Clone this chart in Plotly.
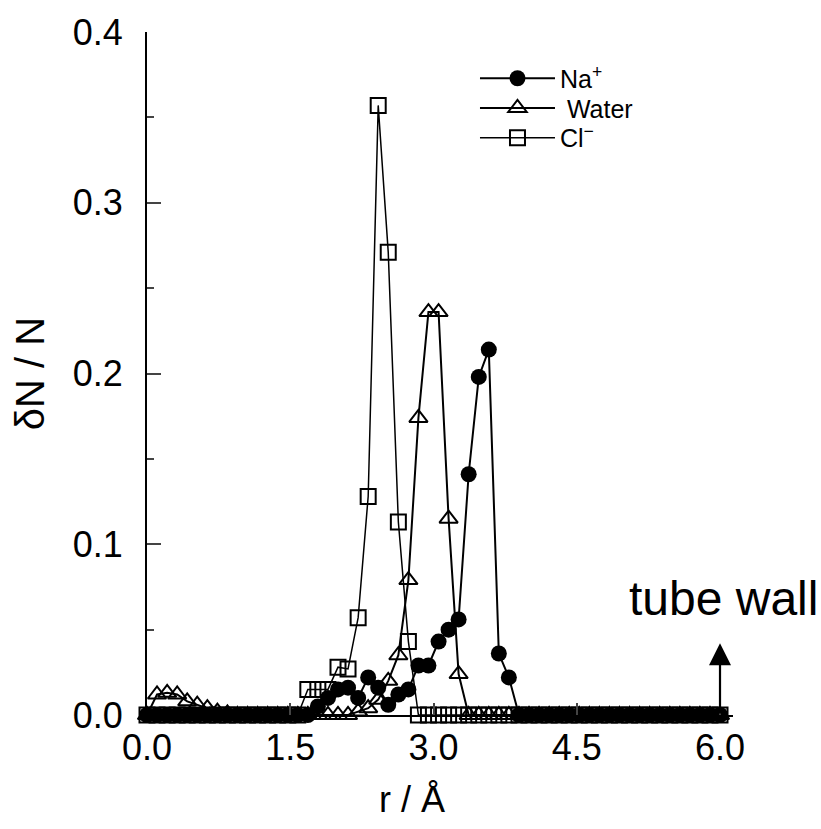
import plotly.graph_objects as go

# radial grid (Å)
r = [0.0, 0.105, 0.211, 0.316, 0.421, 0.526, 0.632, 0.737, 0.842, 0.947,
     1.053, 1.158, 1.263, 1.368, 1.474, 1.579, 1.684, 1.789, 1.895, 2.0,
     2.105, 2.211, 2.316, 2.421, 2.526, 2.632, 2.737, 2.842, 2.947, 3.053,
     3.158, 3.263, 3.368, 3.474, 3.579, 3.684, 3.789, 3.895, 4.0, 4.105,
     4.211, 4.316, 4.421, 4.526, 4.632, 4.737, 4.842, 4.947, 5.053, 5.158,
     5.263, 5.368, 5.474, 5.579, 5.684, 5.789, 5.895, 6.0]

na = [0, 0, 0, 0, 0, 0, 0, 0, 0, 0,
      0, 0, 0, 0, 0, 0, 0, 0.005, 0.010, 0.015,
      0.016, 0.010, 0.022, 0.016, 0.006, 0.012, 0.015, 0.029, 0.029, 0.043,
      0.050, 0.056, 0.141, 0.198, 0.214, 0.036, 0.022, 0, 0, 0,
      0, 0, 0, 0, 0, 0, 0, 0, 0, 0,
      0, 0, 0, 0, 0, 0, 0, 0]

water = [0, 0.012, 0.013, 0.012, 0.008, 0.006, 0.004, 0.002, 0.001, 0,
         0, 0, 0, 0, 0, 0, 0, 0, 0, 0,
         0, 0.002, 0.004, 0.009, 0.020, 0.035, 0.079, 0.174, 0.236, 0.236,
         0.115, 0.024, 0, 0, 0, 0, 0, 0, 0, 0,
         0, 0, 0, 0, 0, 0, 0, 0, 0, 0,
         0, 0, 0, 0, 0, 0, 0, 0]

cl = [0, 0, 0, 0, 0, 0, 0, 0, 0, 0,
      0, 0, 0, 0, 0, 0, 0.015, 0.015, 0.015, 0.028,
      0.027, 0.057, 0.128, 0.357, 0.271, 0.113, 0.043, 0, 0, 0,
      0, 0, 0, 0, 0, 0, 0, 0, 0, 0,
      0, 0, 0, 0, 0, 0, 0, 0, 0, 0,
      0, 0, 0, 0, 0, 0, 0, 0]

series_names = ["Na<sup>+</sup>", " Water", "Cl<sup>−</sup>"]
x_ticks = [0.0, 1.5, 3.0, 4.5, 6.0]
y_ticks = [0.0, 0.1, 0.2, 0.3, 0.4]

FONT = "Liberation Sans, Arial, sans-serif"

fig = go.Figure()
fig.add_trace(go.Scatter(
    x=r, y=na, name=series_names[0], mode="lines+markers", cliponaxis=False,
    legend="legend",
    line=dict(color="black", width=2),
    marker=dict(symbol="circle", size=16, color="black")))
fig.add_trace(go.Scatter(
    x=r, y=water, name=series_names[1], mode="lines+markers", cliponaxis=False,
    legend="legend2",
    line=dict(color="black", width=2),
    marker=dict(symbol="triangle-up-open", size=16, color="black", line=dict(width=2))))
fig.add_trace(go.Scatter(
    x=r, y=cl, name=series_names[2], mode="lines+markers", cliponaxis=False,
    legend="legend3",
    line=dict(color="black", width=1.5),
    marker=dict(symbol="square-open", size=15, color="black", line=dict(width=2))))

fig.add_annotation(x=6.0, y=0.042, ax=6.0, ay=0.0, xref="x", yref="y",
                   axref="x", ayref="y", text="", showarrow=True,
                   arrowhead=2, arrowsize=2.0, arrowwidth=2.2, arrowcolor="black")
fig.add_annotation(x=6.04, y=0.068, xref="x", yref="y", text="tube wall",
                   showarrow=False, font=dict(family=FONT, size=48, color="black"))
# x-axis title (placed slightly left of centre, as in the original)
fig.add_annotation(x=0.452, y=-0.123, xref="paper", yref="paper", text="r / Å",
                   showarrow=False, xanchor="center", yanchor="middle",
                   font=dict(family=FONT, size=36, color="black"))

leg_common = dict(x=0.5597, xanchor="left", yanchor="middle",
                  font=dict(family=FONT, size=25, color="black"),
                  bgcolor="rgba(0,0,0,0)", itemwidth=75)

fig.update_layout(
    width=821, height=829,
    margin=dict(l=147, r=88, t=25, b=114),
    paper_bgcolor="white", plot_bgcolor="white",
    font=dict(family=FONT, size=36, color="black"),
    showlegend=True,
    legend=dict(y=0.9319, **leg_common),
    legend2=dict(y=0.8884, **leg_common),
    legend3=dict(y=0.8449, **leg_common),
    xaxis=dict(range=[0, 6.136], tickvals=x_ticks, tickformat=".1f",
               ticks="inside", ticklen=12, tickwidth=2,
               showline=True, linewidth=2, linecolor="black",
               showgrid=False, zeroline=False),
    yaxis=dict(range=[0, 0.4], tickvals=y_ticks, tickformat=".1f",
               ticks="inside", ticklen=14, tickwidth=2, ticklabelstandoff=15,
               minor=dict(ticks="inside", ticklen=7, tickwidth=2, dtick=0.05, showgrid=False),
               showline=True, linewidth=2, linecolor="black",
               showgrid=False, zeroline=False,
               title=dict(text="δN / N", standoff=16, font=dict(size=40))),
)

fig.write_html("out.html")
